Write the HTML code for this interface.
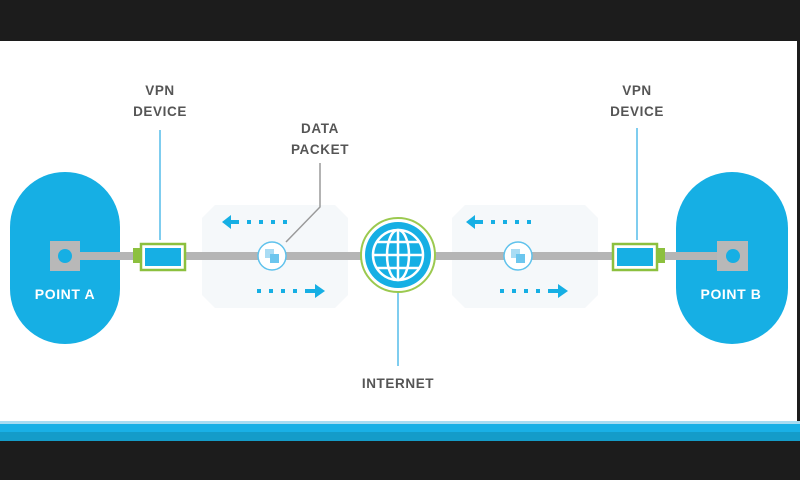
<!DOCTYPE html>
<html><head><style>
html,body{margin:0;padding:0;background:#1c1c1c;}
svg{display:block}
text{font-family:"Liberation Sans",sans-serif;font-weight:bold;letter-spacing:0.6px;}
</style></head><body>
<svg width="800" height="480" viewBox="0 0 800 480">
<rect x="0" y="0" width="800" height="480" fill="#1c1c1c"/>
<rect x="0" y="41" width="797" height="382" fill="#fff"/>
<rect x="0" y="421" width="800" height="3" fill="#a8dcf2"/>
<rect x="0" y="424" width="800" height="8" fill="#19b0e6"/>
<rect x="0" y="432" width="800" height="9" fill="#149cc9"/>
<polygon points="215,205 335,205 348,218 348,295 335,308 215,308 202,295 202,218" fill="#f5f8fa"/>
<polygon points="465,205 585,205 598,218 598,295 585,308 465,308 452,295 452,218" fill="#f5f8fa"/>
<rect x="10" y="172" width="110" height="172" rx="55" fill="#16afe4"/>
<rect x="676" y="172" width="112" height="172" rx="56" fill="#16afe4"/>
<rect x="70" y="252" width="660" height="8" fill="#b5b5b5"/>
<rect x="50" y="241" width="30" height="30" fill="#b8b8b8"/>
<circle cx="65" cy="256" r="7" fill="#16afe4"/>
<rect x="717" y="241" width="31" height="30" fill="#b8b8b8"/>
<circle cx="733" cy="256" r="7" fill="#16afe4"/>
<text x="65" y="299" font-size="14" fill="#fff" text-anchor="middle">POINT A</text>
<text x="731" y="299" font-size="14" fill="#fff" text-anchor="middle">POINT B</text>
<rect x="133" y="248" width="9" height="15" fill="#8cc03e"/>
<rect x="141" y="244" width="44" height="26" fill="#fff" stroke="#8cc03e" stroke-width="2.5"/>
<rect x="145" y="248" width="36" height="18" fill="#16afe4"/>
<rect x="656" y="248" width="9" height="15" fill="#8cc03e"/>
<rect x="613" y="244" width="44" height="26" fill="#fff" stroke="#8cc03e" stroke-width="2.5"/>
<rect x="617" y="248" width="36" height="18" fill="#16afe4"/>
<line x1="160" y1="130" x2="160" y2="240" stroke="#7fcdef" stroke-width="2"/>
<line x1="637" y1="128" x2="637" y2="240" stroke="#7fcdef" stroke-width="2"/>
<line x1="398" y1="292" x2="398" y2="366" stroke="#7fcdef" stroke-width="2"/>
<polyline points="320,163 320,207 286,242" fill="none" stroke="#9a9a9a" stroke-width="1.5"/>
<circle cx="272" cy="256" r="14" fill="#fff" stroke="#5fc2ec" stroke-width="1.5"/>
<rect x="265" y="249" width="9" height="9" fill="#a9dcf4"/><rect x="270" y="254" width="9" height="9" fill="#6cc6ee"/>
<circle cx="518" cy="256" r="14" fill="#fff" stroke="#5fc2ec" stroke-width="1.5"/>
<rect x="511" y="249" width="9" height="9" fill="#a9dcf4"/><rect x="516" y="254" width="9" height="9" fill="#6cc6ee"/>
<circle cx="398" cy="255" r="37" fill="#fff" stroke="#9bc94f" stroke-width="2"/>
<circle cx="398" cy="255" r="33" fill="#16afe4"/>
<g stroke="#fff" stroke-width="2.5" fill="none">
<circle cx="398" cy="255" r="25"/>
<ellipse cx="398" cy="255" rx="11" ry="25"/>
<line x1="398" y1="230" x2="398" y2="280"/>
<line x1="373" y1="255" x2="423" y2="255"/>
<line x1="377" y1="242" x2="419" y2="242"/>
<line x1="377" y1="268" x2="419" y2="268"/>
</g>
<g fill="#16afe4">
<polygon points="222,222 231,215 231,229"/><rect x="230" y="220" width="9" height="4"/>
<rect x="247" y="220" width="4" height="4"/><rect x="259" y="220" width="4" height="4"/><rect x="271" y="220" width="4" height="4"/><rect x="283" y="220" width="4" height="4"/>
<rect x="257" y="289" width="4" height="4"/><rect x="269" y="289" width="4" height="4"/><rect x="281" y="289" width="4" height="4"/><rect x="293" y="289" width="4" height="4"/>
<rect x="305" y="289" width="10" height="4"/><polygon points="325,291 315,284 315,298"/>
<polygon points="466,222 475,215 475,229"/><rect x="474" y="220" width="9" height="4"/>
<rect x="491" y="220" width="4" height="4"/><rect x="503" y="220" width="4" height="4"/><rect x="515" y="220" width="4" height="4"/><rect x="527" y="220" width="4" height="4"/>
<rect x="500" y="289" width="4" height="4"/><rect x="512" y="289" width="4" height="4"/><rect x="524" y="289" width="4" height="4"/><rect x="536" y="289" width="4" height="4"/>
<rect x="548" y="289" width="10" height="4"/><polygon points="568,291 558,284 558,298"/>
</g>
<g font-size="13.5" fill="#555" text-anchor="middle">
<text x="160" y="95">VPN</text><text x="160" y="116">DEVICE</text>
<text x="637" y="95">VPN</text><text x="637" y="116">DEVICE</text>
<text x="320" y="133">DATA</text><text x="320" y="154">PACKET</text>
<text x="398" y="388">INTERNET</text>
</g>
</svg>
</body></html>
